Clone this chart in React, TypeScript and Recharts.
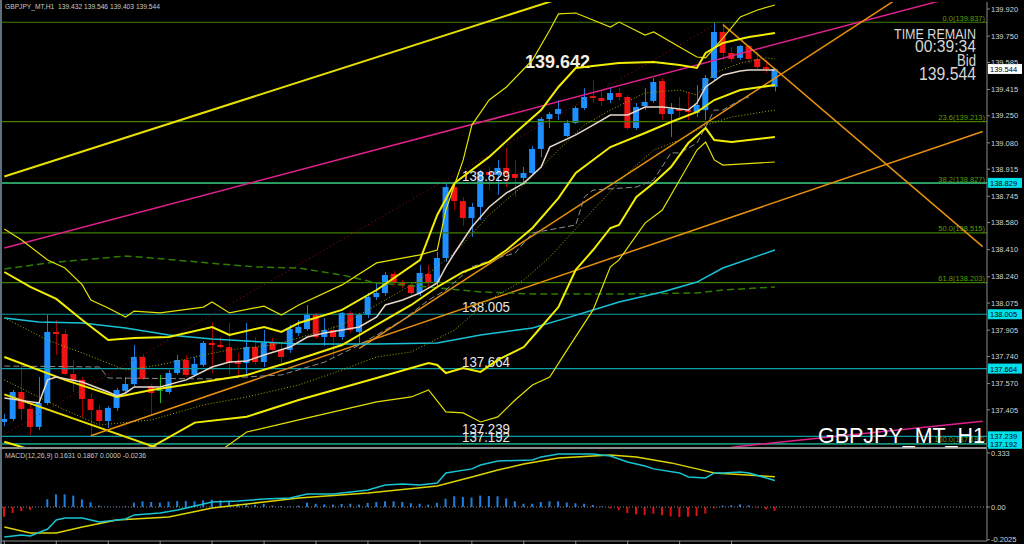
import { ComposedChart, Bar, Line, XAxis, YAxis, ReferenceLine } from 'recharts';

// hourly bars, oldest first
const opens = [
  137.329, 137.348, 137.517, 137.411, 137.298, 137.448, 137.894, 137.881, 137.63, 137.593,
  137.473, 137.404, 137.335, 137.417, 137.524, 137.567, 137.737, 137.555, 137.53, 137.517,
  137.636, 137.718, 137.624, 137.687, 137.825, 137.812, 137.799, 137.705, 137.699, 137.799,
  137.705, 137.825, 137.781, 137.781, 137.887, 137.912, 138.0, 137.862, 137.906, 137.862,
  138.013, 137.894, 138.0, 138.113, 138.138, 138.258, 138.201, 138.188, 138.138, 138.258,
  138.201, 138.358, 138.803, 138.715, 138.609, 138.678, 138.897, 138.879, 138.923, 138.885,
  138.86, 138.891, 139.042, 139.23, 139.261, 139.123, 139.205, 139.299, 139.374, 139.362,
  139.349, 139.393, 139.368, 139.173, 139.311, 139.343, 139.468, 139.261, 139.293, 139.286,
  139.268, 139.286, 139.487, 139.776, 139.644, 139.613, 139.688, 139.606, 139.556, 139.432,
];
const highs = [
  137.379, 137.53, 137.705, 137.448, 137.611, 138.0, 137.969, 137.912, 137.718, 137.611,
  137.511, 137.436, 137.429, 137.542, 137.611, 137.812, 137.749, 137.567, 137.624, 137.655,
  137.749, 137.749, 137.737, 137.837, 137.95, 137.862, 137.95, 137.762, 137.95, 137.862,
  137.906, 137.856, 137.818, 137.938, 137.969, 138.063, 138.013, 137.981, 137.931, 138.019,
  138.025, 138.013, 138.138, 138.201, 138.27, 138.276, 138.22, 138.201, 138.314, 138.314,
  138.396, 138.822, 138.835, 138.741, 138.703, 138.91, 138.929, 138.973, 139.048, 138.973,
  138.929, 139.061, 139.242, 139.274, 139.349, 139.224, 139.311, 139.424, 139.475, 139.412,
  139.431, 139.424, 139.38, 139.33, 139.424, 139.487, 139.487, 139.33, 139.368, 139.399,
  139.443, 139.506, 139.837, 139.832, 139.682, 139.694, 139.694, 139.65, 139.6, 139.546,
];
const lows = [
  137.304, 137.335, 137.342, 137.247, 137.279, 137.436, 137.749, 137.624, 137.517, 137.354,
  137.241, 137.316, 137.291, 137.398, 137.511, 137.555, 137.593, 137.373, 137.448, 137.505,
  137.624, 137.611, 137.611, 137.674, 137.636, 137.793, 137.624, 137.611, 137.624, 137.687,
  137.674, 137.774, 137.699, 137.762, 137.869, 137.9, 137.85, 137.806, 137.731, 137.843,
  137.887, 137.825, 137.981, 138.094, 138.12, 138.188, 138.17, 138.12, 138.12, 138.176,
  138.176, 138.333, 138.659, 138.559, 138.49, 138.596, 138.784, 138.753, 138.803, 138.741,
  138.835, 138.885, 138.992, 139.173, 139.224, 139.117, 139.199, 139.286, 139.33, 139.311,
  139.33, 139.343, 139.161, 139.161, 139.286, 139.33, 139.224, 139.117, 139.242, 139.224,
  139.242, 139.224, 139.475, 139.6, 139.587, 139.6, 139.581, 139.544, 139.518, 139.403,
];
const closes = [
  137.348, 137.517, 137.411, 137.298, 137.448, 137.894, 137.881, 137.63, 137.593, 137.473,
  137.404, 137.335, 137.417, 137.53, 137.567, 137.737, 137.599, 137.511, 137.53, 137.636,
  137.718, 137.624, 137.693, 137.825, 137.812, 137.799, 137.699, 137.693, 137.799, 137.705,
  137.825, 137.781, 137.737, 137.912, 137.925, 138.0, 137.862, 137.906, 137.862, 138.013,
  137.906, 138.0, 138.113, 138.138, 138.251, 138.201, 138.188, 138.138, 138.264, 138.201,
  138.358, 138.803, 138.715, 138.609, 138.678, 138.897, 138.879, 138.923, 138.885, 138.86,
  138.891, 139.042, 139.23, 139.261, 139.293, 139.205, 139.299, 139.368, 139.362, 139.343,
  139.393, 139.368, 139.173, 139.305, 139.337, 139.462, 139.261, 139.293, 139.28, 139.274,
  139.318, 139.487, 139.776, 139.644, 139.606, 139.688, 139.606, 139.556, 139.544, 139.544,
];

// indicator curves, read as [bar index, price]
const outerUpper = [
  [0, 138.54], [2, 138.471], [5, 138.345], [7, 138.295], [9, 138.189], [10, 138.094], [12, 138.044],
  [14, 137.988], [15, 138.025], [18, 138.013], [23, 138.05], [24, 138.082], [26, 138.013], [30, 138.056],
  [32, 138.0], [34, 138.063], [39, 138.189], [43, 138.327], [48, 138.377], [50, 138.408], [51, 138.659],
  [53, 138.973], [54, 139.192], [56, 139.349], [58, 139.431], [61, 139.6], [63, 139.788], [64, 139.889],
  [66, 139.895], [70, 139.807], [71, 139.838], [74, 139.757], [75, 139.776], [78, 139.682], [80, 139.619],
  [81, 139.613], [83, 139.738], [85, 139.87], [87, 139.914], [89, 139.945],
];
const upperBand = [
  [0, 138.27], [3, 138.176], [6, 138.101], [9, 137.969], [12, 137.843], [15, 137.856], [19, 137.862],
  [24, 137.925], [26, 137.875], [30, 137.925], [32, 137.894], [34, 137.95], [39, 138.032], [43, 138.157],
  [48, 138.345], [50, 138.628], [52, 138.828], [56, 138.992], [59, 139.142], [62, 139.286], [64, 139.431],
  [66, 139.55], [71, 139.581], [75, 139.588], [78, 139.569], [80, 139.55], [81, 139.644], [83, 139.707],
  [86, 139.744], [89, 139.769],
];
const lowerBand = [
  [0, 137.737], [7, 137.593], [13, 137.486], [17, 137.53], [23, 137.58], [28, 137.624], [33, 137.705],
  [39, 137.812], [43, 137.938], [47, 138.063], [50, 138.176], [53, 138.27], [56, 138.333], [58, 138.408],
  [61, 138.546], [64, 138.734], [66, 138.891], [70, 139.054], [74, 139.142], [77, 139.211], [80, 139.274],
  [82, 139.349], [85, 139.412], [89, 139.443],
];
const lowerBand2 = [
  [0, 137.205], [2, 137.172], [9, 137.06], [17, 137.172], [22, 137.325], [28, 137.362], [34, 137.467],
  [43, 137.605], [47, 137.668], [49, 137.699], [50, 137.687], [51, 137.636], [53, 137.668], [55, 137.643],
  [57, 137.718], [60, 137.799], [62, 137.925], [64, 138.05], [66, 138.283], [68, 138.408], [70, 138.546],
  [71, 138.565], [73, 138.741], [75, 138.828], [77, 138.929], [79, 139.079], [81, 139.173], [82, 139.098],
  [84, 139.086], [89, 139.117],
];
const outerLower = [
  [25, 137.15], [28, 137.266], [34, 137.342], [43, 137.455], [47, 137.486], [49, 137.53], [51, 137.392],
  [53, 137.386], [55, 137.329], [57, 137.361], [59, 137.467], [61, 137.561], [63, 137.611], [65, 137.781],
  [68, 138.032], [70, 138.302], [71, 138.346], [74, 138.577], [76, 138.659], [78, 138.847], [80, 139.035],
  [81, 139.086], [82, 138.973], [83, 138.941], [89, 138.96],
];
const middleDotted = [
  [0, 137.982], [5, 137.843], [9, 137.762], [14, 137.655], [18, 137.687], [23, 137.749], [26, 137.781],
  [31, 137.812], [34, 137.856], [39, 137.938], [43, 138.063], [48, 138.22], [52, 138.389], [56, 138.628],
  [60, 138.816], [64, 139.036], [67, 139.192], [70, 139.286], [74, 139.393], [78, 139.412], [80, 139.38],
  [82, 139.519], [85, 139.581], [88, 139.613], [89, 139.606],
];
const lowerDotted = [
  [0, 137.593], [7, 137.404], [11, 137.31], [17, 137.342], [23, 137.436], [28, 137.486], [34, 137.561],
  [39, 137.655], [43, 137.737], [47, 137.768], [52, 137.906], [56, 138.094], [60, 138.22], [63, 138.364],
  [68, 138.659], [72, 138.891], [75, 139.035], [78, 139.098], [81, 139.192], [84, 139.242], [89, 139.286],
];
const fastMa = [
  [0, 137.48], [4, 137.448], [5, 137.593], [6, 137.611], [9, 137.58], [12, 137.517], [13, 137.492],
  [14, 137.511], [15, 137.549], [18, 137.549], [21, 137.593], [24, 137.674], [26, 137.705], [28, 137.712],
  [30, 137.749], [33, 137.799], [35, 137.862], [37, 137.887], [39, 137.906], [41, 137.925], [43, 137.988],
  [44, 138.063], [46, 138.094], [48, 138.138], [50, 138.201], [51, 138.302], [52, 138.389], [54, 138.552],
  [56, 138.678], [58, 138.766], [60, 138.828], [62, 138.929], [63, 139.054], [66, 139.13], [68, 139.192],
  [70, 139.255], [72, 139.255], [74, 139.305], [76, 139.305], [79, 139.286], [80, 139.33], [81, 139.431],
  [83, 139.506], [85, 139.531], [86, 139.537], [89, 139.537],
];
const slowMa = [
  [0, 137.982], [4, 137.956], [9, 137.95], [14, 137.919], [19, 137.875], [24, 137.85], [28, 137.837],
  [34, 137.818], [43, 137.818], [50, 137.825], [55, 137.875], [61, 137.919], [65, 137.982], [68, 138.032],
  [71, 138.082], [76, 138.145], [80, 138.207], [83, 138.295], [89, 138.408],
];
const longMa = [
  [0, 138.289], [5, 138.327], [14, 138.37], [17, 138.358], [21, 138.339], [25, 138.32], [29, 138.302],
  [34, 138.295], [39, 138.251], [43, 138.201], [49, 138.176], [55, 138.145], [61, 138.132], [71, 138.132],
  [80, 138.138], [83, 138.157], [89, 138.176],
];
const baseLine = [
  [0, 137.68], [11, 137.674], [12, 137.605], [24, 137.599], [32, 137.624], [37, 137.705], [41, 137.812],
  [46, 137.969], [49, 138.094], [51, 138.157], [54, 138.302], [57, 138.358], [59, 138.389], [61, 138.515],
  [66, 138.565], [67, 138.741], [68, 138.784], [73, 138.803], [75, 138.847], [77, 139.017], [78, 139.017],
  [80, 139.079], [81, 139.18], [82, 139.286], [83, 139.286], [85, 139.349], [86, 139.368],
];

// drawn trend lines: [start index, start price, end index, end price]
const yellowRay = [0, 138.869, 64, 139.983];
const yellowDown = [0, 137.502, 18, 137.16];
const pinkRay = [0, 138.421, 110, 139.999];
const pinkLow = [84, 137.171, 113, 137.333];
const orangeSlow = [10, 137.243, 113, 139.151];
const orangeFast = [41, 137.791, 104, 140.015];
const orangeDown = [83, 139.822, 113, 138.429];
const redDotted = [0, 137.251, 82, 139.82];

const fibRatios = ['0.0', '23.6', '38.2', '50.0', '61.8', '100.0'];
const fibPrices = [139.837, 139.213, 138.827, 138.515, 138.203, 137.192];
const levelPrices = [138.005, 137.664, 137.239, 137.192];
const retestPrice = 138.829;
const swingHigh = 139.642;
const bidPrice = 139.544;

const priceTicks = [
  139.92, 139.75, 139.585, 139.415, 139.25, 139.08, 138.915, 138.745, 138.58, 138.41, 138.24,
  138.075, 137.905, 137.74, 137.57, 137.405,
];

// MACD(12,26,9)
const macdHist = [
  -0.06, -0.037, -0.025, -0.017, 0.0, 0.048, 0.078, 0.078, 0.07, 0.047,
  0.029, 0.008, 0.002, 0.002, 0.004, 0.027, 0.035, 0.031, 0.027, 0.033,
  0.037, 0.037, 0.035, 0.041, 0.045, 0.041, 0.037, 0.02, 0.019, 0.014,
  0.019, 0.008, 0.006, 0.004, 0.008, 0.027, 0.02, 0.016, 0.014, 0.019,
  0.02, 0.014, 0.025, 0.031, 0.035, 0.035, 0.031, 0.023, 0.02, 0.014,
  0.025, 0.051, 0.066, 0.062, 0.058, 0.07, 0.068, 0.066, 0.053, 0.035,
  0.02, 0.02, 0.031, 0.035, 0.035, 0.027, 0.023, 0.02, 0.012, 0.004,
  -0.008, -0.02, -0.037, -0.045, -0.049, -0.041, -0.051, -0.058, -0.062, -0.06,
  -0.056, -0.041, -0.008, 0.008, 0.01, 0.016, 0.01, -0.004, -0.016, -0.024,
];
const macdMain = [
  [0, -0.185], [2, -0.173], [3, -0.179], [5, -0.136], [6, -0.08], [7, -0.068], [9, -0.068], [11, -0.093],
  [14, -0.074], [15, -0.049], [18, -0.037], [20, -0.019], [24, 0.031], [27, 0.037], [30, 0.049], [33, 0.056],
  [35, 0.08], [38, 0.08], [40, 0.093], [42, 0.105], [44, 0.136], [46, 0.142], [48, 0.136], [50, 0.148],
  [51, 0.21], [54, 0.235], [55, 0.259], [57, 0.284], [61, 0.29], [62, 0.309], [64, 0.327], [68, 0.327],
  [70, 0.315], [72, 0.278], [74, 0.253], [75, 0.235], [78, 0.21], [79, 0.185], [81, 0.179], [82, 0.21],
  [83, 0.21], [85, 0.216], [86, 0.21], [89, 0.163],
];
const macdSignal = [
  [0, -0.123], [3, -0.16], [6, -0.16], [9, -0.123], [13, -0.08], [19, -0.062], [24, -0.006], [30, 0.031],
  [34, 0.056], [42, 0.086], [50, 0.13], [54, 0.185], [57, 0.228], [60, 0.265], [64, 0.302], [68, 0.315],
  [70, 0.321], [73, 0.309], [77, 0.272], [80, 0.235], [82, 0.21], [89, 0.187],
];
const macdTicks = [0.333, 0, -0.2025];

const SLOTS = 114; // bars plus empty space up to the price scale
const FONT = "'Liberation Sans', Arial, sans-serif";

const rows: any[] = Array.from({ length: SLOTS }, (_, i) => {
  const r: any = { i };
  if (i < opens.length) {
    r.range = [lows[i], highs[i]];
    r.open = opens[i];
    r.close = closes[i];
  }
  return r;
});
const put = (key: string, pts: number[][]) => pts.forEach(([i, v]) => (rows[i][key] = v));
put('outerUpper', outerUpper);
put('upperBand', upperBand);
put('lowerBand', lowerBand);
put('lowerBand2', lowerBand2);
put('outerLower', outerLower);
put('middleDotted', middleDotted);
put('lowerDotted', lowerDotted);
put('fastMa', fastMa);
put('slowMa', slowMa);
put('longMa', longMa);
put('baseLine', baseLine);

const macdRows: any[] = Array.from({ length: SLOTS }, (_, i) => ({
  i,
  hist: i < macdHist.length ? macdHist[i] : undefined,
}));
macdMain.forEach(([i, v]) => (macdRows[i].macd = v));
macdSignal.forEach(([i, v]) => (macdRows[i].signal = v));

function Candle(props: any) {
  const { x, y, width, height, payload } = props;
  if (!payload || payload.open == null) return null;
  const [lo, hi] = payload.range;
  const k = height / (hi - lo || 1);
  const yo = y + (hi - payload.open) * k;
  const yc = y + (hi - payload.close) * k;
  const flat = payload.open === payload.close;
  const up = payload.close > payload.open;
  const body = flat ? '#22b822' : up ? '#1e8fff' : '#f01414';
  const wick = flat ? '#22b822' : up ? '#1b78d6' : '#a00000';
  const cx = Math.round(x + width / 2) + 0.5;
  return (
    <g>
      <line x1={cx} x2={cx} y1={y} y2={y + height} stroke={wick} />
      <rect x={x} y={Math.min(yo, yc)} width={width} height={Math.max(Math.abs(yc - yo), 1)} fill={body} />
    </g>
  );
}

function HistBar(props: any) {
  const { x, y, width, height, payload } = props;
  if (!payload || payload.hist == null) return null;
  return (
    <rect
      x={x}
      y={Math.min(y, y + height)}
      width={width}
      height={Math.abs(height)}
      fill={payload.hist >= 0 ? '#1e7fe0' : '#e01010'}
    />
  );
}

const axisTag = (text: string, bg: string) => (p: any) => {
  const vb = p.viewBox;
  const x0 = vb.x + vb.width + 1;
  return (
    <g>
      <rect x={x0} y={vb.y - 5} width={34} height={10} fill={bg} />
      <text x={x0 + 2} y={vb.y + 3} fontSize={7.5} fill="#000" fontFamily={FONT}>
        {text}
      </text>
    </g>
  );
};

const fibText = (text: string) => (p: any) => (
  <text
    x={p.viewBox.x + p.viewBox.width - 2}
    y={p.viewBox.y - 1.5}
    textAnchor="end"
    fontSize={7.5}
    fill="#5c9e00"
    fontFamily={FONT}
  >
    {text}
  </text>
);

const levelText = (text: string, withTag: boolean) => (p: any) => (
  <g>
    <text
      x={p.viewBox.x + 462}
      y={p.viewBox.y - 2}
      fontSize={14.5}
      fill="#e6e6e6"
      fontFamily={FONT}
      textLength={48}
      lengthAdjust="spacingAndGlyphs"
    >
      {text}
    </text>
    {withTag && axisTag(text, '#00e0ea')(p)}
  </g>
);

const swingText = (p: any) => (
  <text
    x={p.viewBox.x + 525}
    y={p.viewBox.y + 14.7}
    fontSize={18}
    fontWeight="bold"
    fill="#f4efe4"
    fontFamily={FONT}
    textLength={65}
    lengthAdjust="spacingAndGlyphs"
  >
    {swingHigh.toFixed(3)}
  </text>
);

const seg = (t: number[]) => [
  { x: t[0], y: t[1] },
  { x: t[2], y: t[3] },
];

const tickMark = (p: any) =>
  p.payload.value <= 84 ? (
    <line x1={p.x} x2={p.x} y1={p.y} y2={p.y + 3} stroke="#8a8a8a" />
  ) : (
    <g />
  );

const line = (key: string, color: string, width: number, dash?: string) => (
  <Line
    key={key}
    dataKey={key}
    stroke={color}
    strokeWidth={width}
    strokeDasharray={dash}
    dot={false}
    activeDot={false}
    connectNulls
    isAnimationActive={false}
  />
);

export default function App() {
  return (
    <div
      style={{
        position: 'absolute',
        left: 0,
        top: 0,
        width: 1024,
        height: 544,
        background: '#000',
        fontFamily: FONT,
        overflow: 'hidden',
      }}
    >
      <div style={{ position: 'absolute', left: 0, top: 0 }}>
        <ComposedChart width={1024} height={449} data={rows} margin={{ top: 2, right: 0, bottom: 2, left: 0 }}>
          <XAxis dataKey="i" hide />
          <YAxis
            orientation="right"
            width={37}
            domain={[137.172, 139.964]}
            allowDataOverflow
            ticks={priceTicks}
            interval={0}
            tickFormatter={(v: number) => v.toFixed(3)}
            stroke="#8a8a8a"
            tickSize={3}
            tickMargin={1}
            tick={{ fill: '#d4d4d4', fontSize: 7.5 }}
          />
          {fibPrices.map((p, k) => (
            <ReferenceLine
              key={'fib' + k}
              y={p}
              stroke="#3d7f00"
              strokeWidth={1.2}
              label={fibText(`${fibRatios[k]}(${p.toFixed(3)})`)}
            />
          ))}
          <ReferenceLine y={retestPrice} stroke="#2db57e" strokeWidth={1.5} label={levelText(retestPrice.toFixed(3), true)} />
          {levelPrices.map((p) => (
            <ReferenceLine key={'lv' + p} y={p} stroke="#0a9fa6" strokeWidth={1.2} label={levelText(p.toFixed(3), true)} />
          ))}
          <ReferenceLine y={swingHigh} stroke="none" label={swingText} />
          <ReferenceLine y={bidPrice} stroke="none" label={axisTag(bidPrice.toFixed(3), '#ffffff')} />

          <ReferenceLine segment={seg(redDotted)} stroke="#a01010" strokeDasharray="1 3" ifOverflow="hidden" />
          <ReferenceLine segment={seg(yellowRay)} stroke="#e8e000" strokeWidth={2} ifOverflow="hidden" />
          <ReferenceLine segment={seg(yellowDown)} stroke="#e8e000" strokeWidth={2} ifOverflow="hidden" />
          <ReferenceLine segment={seg(pinkRay)} stroke="#e0208c" strokeWidth={1.5} ifOverflow="hidden" />
          <ReferenceLine segment={seg(pinkLow)} stroke="#e0208c" strokeWidth={1.5} ifOverflow="hidden" />
          <ReferenceLine segment={seg(orangeSlow)} stroke="#e8900c" strokeWidth={1.5} ifOverflow="hidden" />
          <ReferenceLine segment={seg(orangeFast)} stroke="#e8900c" strokeWidth={1.5} ifOverflow="hidden" />
          <ReferenceLine segment={seg(orangeDown)} stroke="#e8900c" strokeWidth={1.5} ifOverflow="hidden" />

          {line('longMa', '#2e7d00', 1.5, '7 4')}
          {line('baseLine', '#8c8c8c', 1, '6 3')}
          {line('slowMa', '#18c2d6', 1.5)}
          {line('lowerDotted', '#a8a800', 1, '1 2')}
          {line('middleDotted', '#a8a800', 1, '1 2')}
          <Bar dataKey="range" barSize={6} shape={Candle} isAnimationActive={false} />
          {line('outerUpper', '#e2e200', 1.2)}
          {line('outerLower', '#e2e200', 1.2)}
          {line('upperBand', '#f2ee00', 2)}
          {line('lowerBand', '#f2ee00', 2)}
          {line('lowerBand2', '#f2ee00', 2)}
          {line('fastMa', '#e6d8ca', 1.5)}
        </ComposedChart>
      </div>

      <div style={{ position: 'absolute', left: 0, top: 449 }}>
        <ComposedChart width={1024} height={95} data={macdRows} margin={{ top: 0, right: 0, bottom: 0, left: 0 }}>
          <XAxis
            dataKey="i"
            height={3}
            interval={5}
            tickSize={0}
            tickMargin={0}
            tickLine={false}
            tick={tickMark}
            axisLine={{ stroke: '#8a8a8a' }}
          />
          <YAxis
            orientation="right"
            width={37}
            domain={[-0.2098, 0.3577]}
            allowDataOverflow
            ticks={macdTicks}
            interval={0}
            tickFormatter={(v: number) => (v === 0 ? '0.00' : String(v))}
            stroke="#8a8a8a"
            tickSize={3}
            tickMargin={1}
            tick={{ fill: '#d4d4d4', fontSize: 7.5 }}
          />
          <ReferenceLine y={0} stroke="#8a8a8a" strokeDasharray="1 2" />
          <Bar dataKey="hist" barSize={2} shape={HistBar} isAnimationActive={false} />
          {line('signal', '#dcd400', 1.5)}
          {line('macd', '#16c4d4', 1.5)}
        </ComposedChart>
      </div>

      <svg width={1024} height={544} style={{ position: 'absolute', left: 0, top: 0, pointerEvents: 'none' }}>
        <rect x={0} y={0} width={2} height={544} fill="#5d7080" />
        <rect x={0} y={447} width={987} height={2} fill="#8c8c8c" />
        <text x={5} y={8.5} fontSize={7.5} fill="#c8c8c8" textLength={155} lengthAdjust="spacingAndGlyphs" style={{ whiteSpace: 'pre' }}>
          {'GBPJPY_MT,H1  139.432 139.546 139.403 139.544'}
        </text>
        <text x={5} y={457.5} fontSize={7.5} fill="#c8c8c8" textLength={141} lengthAdjust="spacingAndGlyphs">
          MACD(12,26,9) 0.1631 0.1867 0.0000 -0.0236
        </text>
        <text x={894} y={39} fontSize={15} fill="#d6d6d6" textLength={82} lengthAdjust="spacingAndGlyphs">
          TIME REMAIN
        </text>
        <text x={915} y={52} fontSize={16.5} fill="#d6d6d6" textLength={61} lengthAdjust="spacingAndGlyphs">
          00:39:34
        </text>
        <text x={957} y={66} fontSize={16.5} fill="#d6d6d6" textLength={19} lengthAdjust="spacingAndGlyphs">
          Bid
        </text>
        <text x={919} y={80} fontSize={18} fill="#d6d6d6" textLength={57} lengthAdjust="spacingAndGlyphs">
          139.544
        </text>
        <text x={818} y={443} fontSize={22} fill="#ffffff" textLength={167} lengthAdjust="spacingAndGlyphs">
          GBPJPY_MT_H1
        </text>
      </svg>
    </div>
  );
}
